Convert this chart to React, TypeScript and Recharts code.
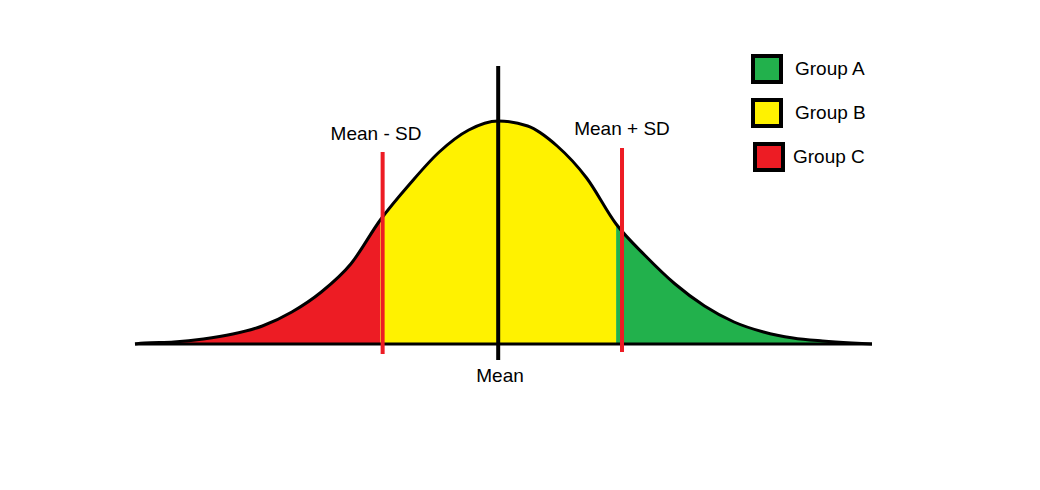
import { Area, ComposedChart, Line, ReferenceLine, XAxis, YAxis } from "recharts";

// x in standard deviations from the mean, height
const sdSteps = [-3.08, -3, -2.75, -2.5, -2.25, -2, -1.75, -1.5, -1.25, -1, -0.75, -0.5, -0.25, 0, 0.25, 0.5, 0.75, 1, 1.25, 1.5, 1.75, 2, 2.25, 2.5, 2.75, 3, 3.17];
const heights = [0, 1, 2, 5, 10, 18, 32, 52, 80, 124, 160, 192, 214, 223, 218, 198, 166, 120, 88, 60, 38, 22, 12, 6, 3, 1, 0];

const groups = [
  { name: "Group A", color: "#22b14c" },
  { name: "Group B", color: "#fff200" },
  { name: "Group C", color: "#ed1c24" },
];

const labels = [
  { text: "Mean - SD", x: 376, y: 122 },
  { text: "Mean + SD", x: 622, y: 117 },
  { text: "Mean", x: 500, y: 364 },
];

const data = sdSteps.map((s, i) => ({
  s,
  curve: heights[i],
  low: s <= -1 ? heights[i] : null,
  mid: s >= -1 && s <= 1 ? heights[i] : null,
  high: s >= 1 ? heights[i] : null,
}));

const font = "'Liberation Sans', Arial, sans-serif";

export default function App() {
  return (
    <div style={{ position: "absolute", left: 0, top: 0, width: 1040, height: 490, fontFamily: font, fontSize: 19 }}>
      <ComposedChart width={1040} height={490} data={data} margin={{ top: 66, right: 168, left: 135, bottom: 146 }}>
        <XAxis dataKey="s" type="number" domain={[-3.08, 3.17]} hide />
        <YAxis domain={[0, 278]} hide />
        <Area dataKey="low" type="monotone" fill="#ed1c24" fillOpacity={1} stroke="none" isAnimationActive={false} />
        <Area dataKey="mid" type="monotone" fill="#fff200" fillOpacity={1} stroke="none" isAnimationActive={false} />
        <Area dataKey="high" type="monotone" fill="#22b14c" fillOpacity={1} stroke="none" isAnimationActive={false} />
        <Line dataKey="curve" type="monotone" stroke="#000" strokeWidth={3} dot={false} isAnimationActive={false} />
        <ReferenceLine y={0} stroke="#000" strokeWidth={3} />
        <ReferenceLine segment={[{ x: 0, y: -16 }, { x: 0, y: 278 }]} ifOverflow="visible" stroke="#000" strokeWidth={4} />
        <ReferenceLine segment={[{ x: -0.98, y: -10 }, { x: -0.98, y: 192 }]} ifOverflow="visible" stroke="#ed1c24" strokeWidth={4} />
        <ReferenceLine segment={[{ x: 1.05, y: -8 }, { x: 1.05, y: 196 }]} ifOverflow="visible" stroke="#ed1c24" strokeWidth={4} />
      </ComposedChart>
      {labels.map((l) => (
        <div key={l.text} style={{ position: "absolute", left: l.x - 80, top: l.y, width: 160, textAlign: "center", lineHeight: "24px" }}>
          {l.text}
        </div>
      ))}
      <div style={{ position: "absolute", left: 751, top: 47 }}>
        {groups.map((g, i) => (
          <div key={g.name} style={{ display: "flex", alignItems: "center", height: 44, marginLeft: i === 2 ? 2 : 0 }}>
            <div style={{ width: 24, height: 22, background: g.color, border: "4px solid #000", marginRight: i === 2 ? 8 : 12 }} />
            <span>{g.name}</span>
          </div>
        ))}
      </div>
    </div>
  );
}
